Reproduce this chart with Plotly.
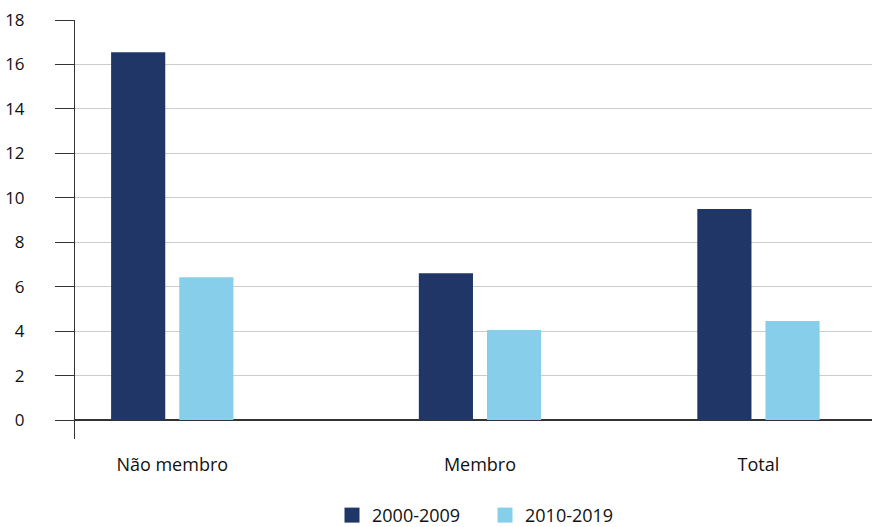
import plotly.graph_objects as go

# Data
categories = ["Não membro", "Membro", "Total"]
series_names = ["2000-2009", "2010-2019"]
values_2000_2009 = [16.55, 6.6, 9.5]
values_2010_2019 = [6.42, 4.05, 4.45]
y_tick_values = [0, 2, 4, 6, 8, 10, 12, 14, 16, 18]

# Layout: horizontal slot for each category group
slot_x = [0.0, 1.0, 1.905]
bar_width = 0.176
bar_offsets = [-0.1987, 0.0228]
colors = ["#1f3666", "#87ceeb"]
font_family = "Open Sans, Noto Sans, sans-serif"
text_color = "#111111"

fig = go.Figure()
for name, vals, col, off in zip(series_names,
                                [values_2000_2009, values_2010_2019],
                                colors, bar_offsets):
    fig.add_trace(go.Bar(
        x=slot_x, y=vals, name=name,
        marker=dict(color=col, line=dict(width=0)),
        width=bar_width, offset=off,
        showlegend=False,
    ))
    # legend swatch: larger square key
    fig.add_trace(go.Scatter(
        x=[None], y=[None], mode="markers", name=name,
        marker=dict(symbol="square", size=15, color=col, line=dict(width=0)),
    ))

fig.update_layout(
    width=872, height=527,
    margin=dict(l=75, r=0, t=20, b=88),
    plot_bgcolor="white", paper_bgcolor="white",
    barmode="overlay",
    font=dict(family=font_family, size=17, color=text_color, weight=500),
    showlegend=True,
    legend=dict(
        orientation="h",
        xref="container", yref="container",
        x=332 / 872, xanchor="left",
        y=0.022, yanchor="middle",
        font=dict(size=18, color=text_color, weight=500),
        itemsizing="trace",
        itemwidth=30,
        entrywidth=108, entrywidthmode="pixels",
        tracegroupgap=0,
    ),
    xaxis=dict(
        range=[-0.316, 2.274],
        tickmode="array", tickvals=slot_x, ticktext=categories,
        tickfont=dict(size=18),
        showgrid=False, zeroline=False, showline=False,
        ticks="", ticklabelstandoff=13,
        fixedrange=True,
    ),
    yaxis=dict(
        range=[-0.855, 18],
        tickmode="array", tickvals=y_tick_values,
        showgrid=True, gridcolor="#cccccc", gridwidth=1,
        zeroline=True, zerolinecolor="#333333", zerolinewidth=2,
        showline=True, linecolor="#333333", linewidth=1,
        ticks="outside", ticklen=19, tickcolor="#333333", tickwidth=1,
        ticklabelstandoff=27,
        fixedrange=True,
    ),
)

fig.write_html("out.html")
